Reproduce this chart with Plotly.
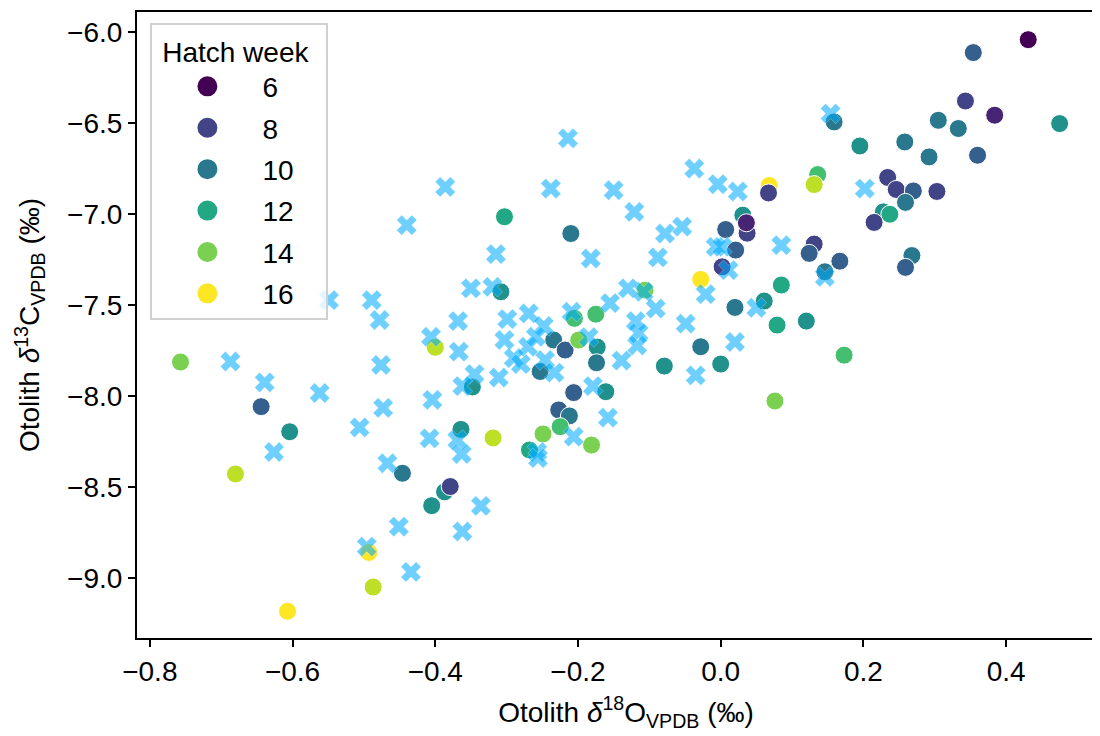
import plotly.graph_objects as go

# Otolith isotopes of fish with an assigned hatch week (circles)
circ_d18o = [0.431, 0.354, 0.343, 0.384, 0.475, 0.305, 0.333, 0.258, 0.292, 0.360,
             0.195, 0.234, 0.246, 0.270, 0.303, 0.259, 0.228, 0.237, 0.215, 0.268,
             0.259, 0.159, 0.136, 0.131, 0.068, 0.067, 0.031, 0.037, 0.036, 0.007,
             0.021, 0.002, 0.131, 0.124, 0.167, 0.146, -0.028, -0.106, 0.020, 0.061,
             0.085, 0.079, 0.120, 0.173, -0.028, 0.000, -0.079, 0.076, -0.303, -0.210,
             -0.308, -0.205, -0.175, -0.400, -0.234, -0.218, -0.199, -0.173, -0.174, -0.253,
             -0.348, -0.206, -0.161, -0.227, -0.212, -0.225, -0.249, -0.181, -0.268, -0.319,
             -0.364, -0.387, -0.379, -0.405, -0.446, -0.487, -0.493, -0.607, -0.680, -0.604,
             -0.644, -0.757]
circ_d13c = [-6.043, -6.114, -6.380, -6.458, -6.504, -6.486, -6.531, -6.605, -6.687, -6.678,
             -6.627, -6.800, -6.866, -6.874, -6.877, -6.937, -6.989, -7.002, -7.047, -7.229,
             -7.294, -6.495, -6.784, -6.839, -6.844, -6.885, -7.007, -7.106, -7.049, -7.086,
             -7.199, -7.291, -7.166, -7.217, -7.260, -7.318, -7.360, -7.419, -7.514, -7.479,
             -7.391, -7.611, -7.589, -7.776, -7.730, -7.825, -7.836, -8.028, -7.016, -7.108,
             -7.428, -7.574, -7.551, -7.733, -7.693, -7.748, -7.693, -7.732, -7.818, -7.866,
             -7.951, -7.982, -7.977, -8.077, -8.110, -8.169, -8.209, -8.270, -8.297, -8.231,
             -8.184, -8.527, -8.498, -8.603, -8.425, -9.050, -8.860, -9.183, -8.429, -8.197,
             -8.059, -7.814]
circ_week = [6, 9, 8, 7, 11, 10, 10, 10, 10, 9,
             11, 8, 8, 9, 8, 10, 11, 12, 8, 10,
             9, 10, 13, 15, 16, 8, 11, 8, 7, 9,
             9, 8, 8, 9, 9, 10, 16, 14, 10, 11,
             12, 12, 11, 13, 10, 11, 11, 14, 12, 10,
             11, 13, 13, 15, 10, 9, 14, 11, 10, 10,
             11, 9, 11, 9, 10, 13, 14, 14, 12, 15,
             11, 11, 8, 11, 10, 15, 16, 16, 15, 11,
             9, 14]

# Fish without hatch week (crosses)
cross_d18o = [0.154, 0.202, -0.037, -0.150, -0.004, 0.024, -0.121, -0.078, -0.054, -0.007,
              0.002, 0.011, 0.085, 0.146, -0.021, -0.108, -0.130, -0.091, 0.050, -0.049,
              0.020, -0.035, -0.088, -0.119, -0.115, -0.117, -0.139, -0.158, -0.214, -0.386,
              -0.238, -0.440, -0.315, -0.182, -0.350, -0.320, -0.478, -0.368, -0.299, -0.269,
              -0.248, -0.209, -0.155, -0.406, -0.367, -0.303, -0.270, -0.259, -0.185, -0.290,
              -0.280, -0.246, -0.233, -0.345, -0.311, -0.362, -0.179, -0.476, -0.489, -0.549,
              -0.687, -0.639, -0.562, -0.473, -0.506, -0.626, -0.404, -0.408, -0.369, -0.363,
              -0.206, -0.257, -0.256, -0.467, -0.336, -0.451, -0.362, -0.434, -0.496]
cross_d13c = [-6.449, -6.861, -6.751, -6.870, -6.837, -6.877, -6.989, -7.108, -7.070, -7.181,
              -7.181, -7.309, -7.172, -7.346, -7.441, -7.428, -7.409, -7.520, -7.516, -7.603,
              -7.704, -7.887, -7.239, -7.589, -7.655, -7.723, -7.806, -8.119, -6.585, -6.852,
              -6.861, -7.062, -7.221, -7.245, -7.409, -7.401, -7.583, -7.589, -7.578, -7.547,
              -7.616, -7.538, -7.490, -7.675, -7.757, -7.693, -7.730, -7.675, -7.677, -7.792,
              -7.825, -7.803, -7.872, -7.880, -7.899, -7.946, -7.946, -7.830, -7.474, -7.474,
              -7.811, -7.926, -7.984, -8.066, -8.173, -8.308, -8.022, -8.233, -8.242, -8.319,
              -8.224, -8.308, -8.342, -8.370, -8.604, -8.718, -8.745, -8.967, -8.828]

legend_weeks = [6, 8, 10, 12, 14, 16]

# matplotlib viridis sampled every 0.1
viridis = ['#440154', '#482475', '#414487', '#355f8d', '#2a788e', '#21918c',
           '#22a884', '#44bf70', '#7ad151', '#bddf26', '#fde725']
viridis_scale = [[i / 10, c] for i, c in enumerate(viridis)]

FONT = 'Liberation Sans, Arial, sans-serif'
FS = 28
NB = '\u00a0'

fig = go.Figure()

fig.add_trace(go.Scatter(
    x=circ_d18o, y=circ_d13c, mode='markers', showlegend=False,
    marker=dict(size=18, color=circ_week, colorscale=viridis_scale, cmin=6, cmax=16,
                line=dict(color='white', width=1))
))

fig.add_trace(go.Scatter(
    x=cross_d18o, y=cross_d13c, mode='markers', showlegend=False,
    marker=dict(symbol='x', size=18, color='rgb(0,172,255)', opacity=0.56,
                line=dict(color='white', width=0.5))
))

# legend entries (edge in same colour to get a bigger dot in the legend)
for w in legend_weeks:
    c = viridis[w - 6]
    fig.add_trace(go.Scatter(
        x=[None], y=[None], mode='markers', name=str(w), legendgroup=str(w),
        marker=dict(size=16, color=c, line=dict(color=c, width=4))
    ))

axis_common = dict(
    showline=True, linecolor='black', linewidth=2, mirror=True,
    ticks='outside', ticklen=7, tickwidth=1.5, tickcolor='black',
    showgrid=False, zeroline=False, tickformat='.1f',
    tickfont=dict(size=FS, color='black', family=FONT),
)

# the page body adds an 8 px offset; the right spine is cut off in the
# reference, so the plot area runs past the window edge
fig.update_layout(
    width=1110, height=728,
    margin=dict(l=129, r=1, t=4, b=98),
    plot_bgcolor='white', paper_bgcolor='white',
    font=dict(family=FONT, color='black'),
    xaxis=dict(range=[-0.818, 0.5526], tickvals=[-0.8, -0.6, -0.4, -0.2, 0.0, 0.2, 0.4],
               title=dict(text='Otolith <i>δ</i><sup>18</sup>O<sub>VPDB</sub> (‰)',
                          font=dict(size=FS), standoff=17),
               **axis_common),
    yaxis=dict(range=[-9.330, -5.891], tickvals=[-9.0, -8.5, -8.0, -7.5, -7.0, -6.5, -6.0],
               title=dict(text='Otolith <i>δ</i><sup>13</sup>C<sub>VPDB</sub> (‰)',
                          font=dict(size=FS), standoff=19),
               **axis_common),
    legend=dict(
        title=dict(text=NB + 'Hatch week' + NB * 2, font=dict(size=FS)),
        font=dict(size=FS), x=0.0137, y=0.982, xanchor='left', yanchor='top',
        bgcolor='rgba(255,255,255,0.8)', bordercolor='#d0d0d0', borderwidth=2,
        tracegroupgap=2, itemwidth=100,
    ),
)

fig.write_html('out.html')
